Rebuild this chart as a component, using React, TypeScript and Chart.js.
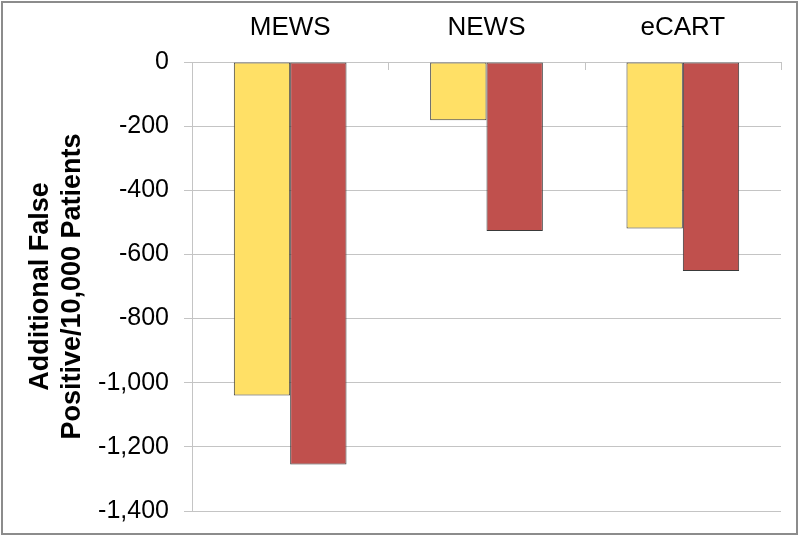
import React, { useEffect, useRef } from "react";
import { Chart, registerables } from "chart.js";

Chart.register(...registerables);

const categories = ["MEWS", "NEWS", "eCART"];
const seriesYellow = [-1040, -182, -519];
const seriesRed = [-1255, -527, -652];
const yTickValues = [0, -200, -400, -600, -800, -1000, -1200, -1400];
const yTitle = ["Additional False", "Positive/10,000 Patients"];

const FONT = "'Liberation Sans', Arial, sans-serif";
const GRID = "#c4c4c4";

const frame = {
  id: "frame",
  afterDraw(chart: any) {
    const { ctx, chartArea, scales } = chart;
    const x = scales.x;
    ctx.save();
    ctx.strokeStyle = GRID;
    ctx.lineWidth = 1;
    for (let i = 0; i <= categories.length; i++) {
      const px = Math.round(x.getPixelForValue(i - 0.5)) + 0.5;
      ctx.beginPath();
      ctx.moveTo(px, chartArea.top);
      ctx.lineTo(px, chartArea.top + 8);
      ctx.stroke();
    }
    ctx.strokeStyle = "#8c8c8c";
    ctx.lineWidth = 2;
    ctx.strokeRect(2, 2, chart.width - 5, chart.height - 5);
    ctx.restore();
  },
};

export default function App() {
  const ref = useRef<HTMLCanvasElement | null>(null);
  useEffect(() => {
    if (!ref.current) return;
    const chart = new Chart(ref.current, {
      type: "bar",
      data: {
        labels: categories,
        datasets: [
          {
            label: "Series 1",
            data: seriesYellow,
            backgroundColor: "#ffe066",
            borderColor: "#3a3a3a",
            borderWidth: 1,
            borderSkipped: false,
          },
          {
            label: "Series 2",
            data: seriesRed,
            backgroundColor: "#c0504d",
            borderColor: "#3a3a3a",
            borderWidth: 1,
            borderSkipped: false,
          },
        ],
      },
      options: {
        animation: false,
        responsive: false,
        maintainAspectRatio: false,
        layout: { padding: { left: 0, top: 0, right: 19, bottom: 26 } },
        plugins: { legend: { display: false }, tooltip: { enabled: false } },
        datasets: { bar: { barPercentage: 1, categoryPercentage: 0.574 } },
        scales: {
          x: {
            position: "top",
            offset: true,
            grid: { display: true, drawOnChartArea: false, drawTicks: false },
            border: { display: true, color: GRID, width: 1 },
            ticks: {
              color: "#000",
              font: { family: FONT, size: 26 },
              padding: 19,
            },
            afterFit: (s: any) => {
              s.height = 62;
              s.paddingLeft = 0;
              s.paddingRight = 0;
            },
          },
          y: {
            min: -1400,
            max: 0,
            afterBuildTicks: (s: any) => {
              s.ticks = yTickValues.map((v) => ({ value: v }));
            },
            grid: { color: GRID, lineWidth: 1, tickLength: 8, drawTicks: true },
            border: { display: true, color: GRID, width: 1 },
            ticks: {
              color: "#000",
              font: { family: FONT, size: 25 },
              padding: 15,
              callback: (v: any) => Number(v).toLocaleString("en-US"),
            },
            title: {
              display: true,
              text: yTitle,
              color: "#000",
              font: { family: FONT, size: 27, weight: "bold", lineHeight: 1.19 },
              padding: { top: 24, bottom: 0 },
            },
            afterFit: (s: any) => {
              s.width = 192;
              s.paddingTop = 0;
              s.paddingBottom = 0;
            },
          },
        },
      },
      plugins: [frame],
    });
    return () => chart.destroy();
  }, []);
  return (
    <div style={{ position: "fixed", left: 0, top: 0, width: 800, height: 537, background: "#fff" }}>
      <canvas ref={ref} width={800} height={537} style={{ display: "block", width: 800, height: 537 }} />
    </div>
  );
}
